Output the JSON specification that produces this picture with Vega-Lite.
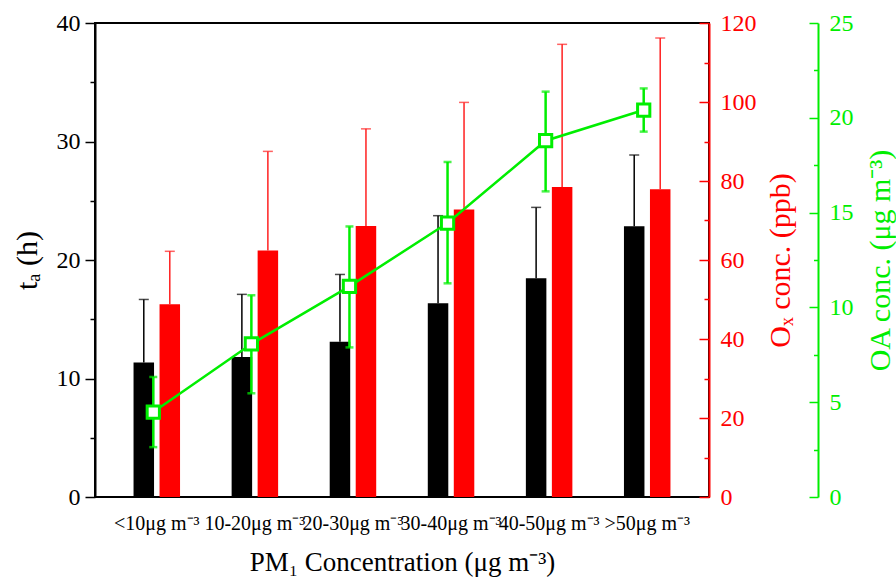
{
  "$schema": "https://vega.github.io/schema/vega-lite/v6.json",
  "width": 614,
  "height": 474,
  "autosize": "none",
  "padding": {"left": 95, "top": 23, "right": 187, "bottom": 84},
  "background": "white",
  "config": {
    "view": {"stroke": "black", "strokeWidth": 2},
    "axis": {"grid": false, "labelFont": "Liberation Serif", "titleFont": "Liberation Serif", "titleFontWeight": "normal"}
  },
  "data": {
    "values": [
      {"cat": "<10μg m⁻³", "ta": 11.36, "ta_hi": 16.67, "ox": 48.8, "ox_hi": 62.2, "oa": 4.48, "oa_lo": 2.63, "oa_hi": 6.33},
      {"cat": "10-20μg m⁻³", "ta": 11.81, "ta_hi": 17.1, "ox": 62.4, "ox_hi": 87.5, "oa": 8.07, "oa_lo": 5.47, "oa_hi": 10.64},
      {"cat": "20-30μg m⁻³", "ta": 13.1, "ta_hi": 18.78, "ox": 68.6, "ox_hi": 93.2, "oa": 11.11, "oa_lo": 7.89, "oa_hi": 14.27},
      {"cat": "30-40μg m⁻³", "ta": 16.34, "ta_hi": 23.74, "ox": 72.8, "ox_hi": 99.9, "oa": 14.45, "oa_lo": 11.27, "oa_hi": 17.67},
      {"cat": "40-50μg m⁻³", "ta": 18.45, "ta_hi": 24.44, "ox": 78.5, "ox_hi": 114.6, "oa": 18.79, "oa_lo": 16.12, "oa_hi": 21.38},
      {"cat": ">50μg m⁻³", "ta": 22.84, "ta_hi": 28.86, "ox": 77.9, "ox_hi": 116.2, "oa": 20.41, "oa_lo": 19.27, "oa_hi": 21.55}
    ]
  },
  "encoding": {
    "x": {
      "field": "cat", "type": "nominal", "sort": null,
      "scale": {"type": "band", "paddingInner": 0, "paddingOuter": 0.13},
      "axis": {
        "title": "PM₁ Concentration (μg m⁻³)", "labelAngle": 0, "labelFontSize": 20, "labelColor": "black",
        "labelPadding": 16, "labelOverlap": false, "ticks": false, "tickSize": 0, "domain": false,
        "titleFontSize": 27, "titleColor": "black", "titlePadding": 16
      }
    }
  },
  "layer": [
    {
      "mark": {"type": "bar", "color": "black", "width": 20.5, "xOffset": -13},
      "encoding": {
        "y": {"field": "ta", "type": "quantitative", "scale": {"domain": [0, 40], "nice": false},
          "axis": {"orient": "left", "values": [0, 10, 20, 30, 40], "tickSize": 10, "tickWidth": 1.5, "tickColor": "black",
            "domainColor": "black", "domainWidth": 2, "labelFontSize": 24, "labelPadding": 5, "labelColor": "black",
            "title": "tₐ (h)", "titleFontSize": 30, "titleColor": "black", "titlePadding": 14}}
      }
    },
    {
      "mark": {"type": "rule", "color": "black", "strokeWidth": 1.5, "xOffset": -13},
      "encoding": {
        "y": {"field": "ta", "type": "quantitative", "scale": {"domain": [0, 40], "nice": false},
          "axis": {"orient": "left", "values": [5, 15, 25, 35], "tickSize": 5, "tickWidth": 1.5, "tickColor": "black",
            "labels": false, "domain": false, "title": null}},
        "y2": {"field": "ta_hi"}
      }
    },
    {
      "mark": {"type": "tick", "color": "black", "size": 10, "thickness": 1.5, "xOffset": -13},
      "encoding": {
        "y": {"field": "ta_hi", "type": "quantitative", "scale": {"domain": [0, 40], "nice": false}, "axis": null}
      }
    },
    {
      "mark": {"type": "bar", "color": "#ff0000", "width": 20.5, "xOffset": 13},
      "encoding": {
        "y": {"field": "ox", "type": "quantitative", "scale": {"domain": [0, 120], "nice": false},
          "axis": {"orient": "right", "values": [0, 20, 40, 60, 80, 100, 120], "ticks": false, "tickSize": 0,
            "domainColor": "#ff0000", "domainWidth": 2, "labelFontSize": 24, "labelPadding": 11, "labelColor": "#ff0000",
            "title": "Oₓ conc. (ppb)", "titleFontSize": 30, "titleColor": "#ff0000", "titleAngle": 270, "titlePadding": 39}}
      }
    },
    {
      "mark": {"type": "rule", "color": "#ff2020", "strokeWidth": 1.5, "xOffset": 13},
      "encoding": {
        "y": {"field": "ox", "type": "quantitative", "scale": {"domain": [0, 120], "nice": false},
          "axis": {"orient": "right", "offset": -10, "values": [0, 20, 40, 60, 80, 100, 120], "tickSize": 10, "tickWidth": 1.5,
            "tickColor": "#ff0000", "labels": false, "domain": false, "title": null}},
        "y2": {"field": "ox_hi"}
      }
    },
    {
      "mark": {"type": "tick", "color": "#ff2020", "size": 10, "thickness": 1.5, "xOffset": 13},
      "encoding": {
        "y": {"field": "ox_hi", "type": "quantitative", "scale": {"domain": [0, 120], "nice": false},
          "axis": {"orient": "right", "offset": -5, "values": [10, 30, 50, 70, 90, 110], "tickSize": 5, "tickWidth": 1.5,
            "tickColor": "#ff0000", "labels": false, "domain": false, "title": null}}
      }
    },
    {
      "mark": {"type": "rule", "color": "#00ee00", "strokeWidth": 2.5, "xOffset": -3.5},
      "encoding": {
        "y": {"field": "oa_lo", "type": "quantitative", "scale": {"domain": [0, 25], "nice": false},
          "axis": {"orient": "right", "offset": 109, "values": [0, 5, 10, 15, 20, 25], "ticks": false, "tickSize": 0,
            "domainColor": "#00ee00", "domainWidth": 2, "labelFontSize": 24, "labelPadding": 11, "labelColor": "#00ee00",
            "title": "OA conc. (μg m⁻³)", "titleFontSize": 30, "titleColor": "#00ee00", "titleAngle": 270, "titlePadding": 42}},
        "y2": {"field": "oa_hi"}
      }
    },
    {
      "mark": {"type": "tick", "color": "#00ee00", "size": 8, "thickness": 2.5, "xOffset": -3.5},
      "encoding": {
        "y": {"field": "oa_hi", "type": "quantitative", "scale": {"domain": [0, 25], "nice": false},
          "axis": {"orient": "right", "offset": 100, "values": [0, 5, 10, 15, 20, 25], "tickSize": 9, "tickWidth": 1.5,
            "tickColor": "#00ee00", "labels": false, "domain": false, "title": null}}
      }
    },
    {
      "mark": {"type": "tick", "color": "#00ee00", "size": 8, "thickness": 2.5, "xOffset": -3.5},
      "encoding": {
        "y": {"field": "oa_lo", "type": "quantitative", "scale": {"domain": [0, 25], "nice": false},
          "axis": {"orient": "right", "offset": 104.5, "values": [2.5, 7.5, 12.5, 17.5, 22.5], "tickSize": 4.5, "tickWidth": 1.5,
            "tickColor": "#00ee00", "labels": false, "domain": false, "title": null}}
      }
    },
    {
      "mark": {"type": "line", "color": "#00ee00", "strokeWidth": 2.5, "xOffset": -3.5},
      "encoding": {
        "y": {"field": "oa", "type": "quantitative", "scale": {"domain": [0, 25], "nice": false}, "axis": null}
      }
    },
    {
      "mark": {"type": "point", "shape": "square", "filled": true, "fill": "white", "stroke": "#00ee00", "strokeWidth": 3, "size": 150, "opacity": 1, "xOffset": -3.5},
      "encoding": {
        "y": {"field": "oa", "type": "quantitative", "scale": {"domain": [0, 25], "nice": false}, "axis": null}
      }
    }
  ],
  "resolve": {"scale": {"y": "independent"}}
}
